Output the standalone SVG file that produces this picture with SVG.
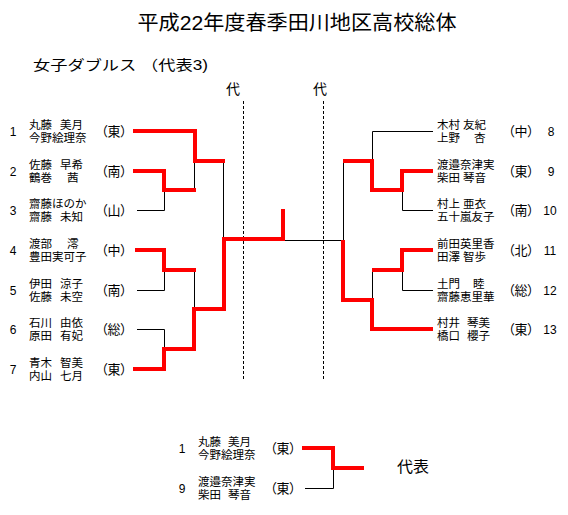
<svg xmlns="http://www.w3.org/2000/svg" width="568" height="515" viewBox="0 0 568 515">
<style>
text{font-family:"Liberation Sans","Noto Sans CJK JP",sans-serif;fill:#000}
.nm{font-size:11.5px}
.no{font-size:12px;text-anchor:middle}
.sc{font-size:13px;text-anchor:middle;font-feature-settings:"palt"}
.red{stroke:#f00;stroke-width:4;fill:none;stroke-linecap:square;stroke-linejoin:miter}
.thin{stroke:#000;stroke-width:1;fill:none}
.dash{stroke:#000;stroke-width:1;stroke-dasharray:3 2;fill:none}
</style>
<rect width="568" height="515" fill="#fff"/>
<g id="title">
<text x="297" y="30" font-size="20" text-anchor="middle" textLength="319" lengthAdjust="spacingAndGlyphs">平成22年度春季田川地区高校総体</text>
<text x="33" y="70" font-size="14" textLength="175" lengthAdjust="spacingAndGlyphs">女子ダブルス （代表3)</text>
<text x="233" y="94" font-size="14" text-anchor="middle">代</text>
<text x="320" y="94" font-size="14" text-anchor="middle">代</text>
</g>
<g id="connectors">
<line class="dash" x1="243.5" y1="101" x2="243.5" y2="379"/>
<line class="dash" x1="323.5" y1="101" x2="323.5" y2="379"/>
<path class="thin" d="M137,210.5H164.5V190"/>
<path class="thin" d="M194.5,161V190"/>
<path class="thin" d="M223.5,161V239"/>
<path class="thin" d="M137,290.5H164.5V270"/>
<path class="thin" d="M194.5,270V309"/>
<path class="thin" d="M137,329.5H164.5V349"/>
<path class="thin" d="M283,240.5H343"/>
<path class="thin" d="M433,131.5H372.5V161"/>
<path class="thin" d="M433,210.5H402.5V190"/>
<path class="thin" d="M343.5,161V240"/>
<path class="thin" d="M433,290.5H402.5V270"/>
<path class="thin" d="M372.5,270V300"/>
<path class="thin" d="M305,488.5H333.5V468"/>
<path class="red" d="M135,131H195V161H223"/>
<path class="red" d="M135,171H164V190H194"/>
<path class="red" d="M137,250H164V270H194"/>
<path class="red" d="M135,369H164V349H194V309H224V239H283V211"/>
<path class="red" d="M431,171H402V190H372V161H345"/>
<path class="red" d="M431,250H402V270H374"/>
<path class="red" d="M431,329H372V300H343V242"/>
<path class="red" d="M304,448H333V468H362"/>
</g>
<g id="team1"><text class="no" x="13" y="135.5">1</text><text class="nm" x="29" y="129">丸藤 <tspan x="60">美月</tspan></text><text class="nm" x="29" y="141.5">今野絵理奈</text><text class="sc" x="114" y="135.5">（東）</text></g>
<g id="team2"><text class="no" x="13" y="175.5">2</text><text class="nm" x="29" y="169">佐藤 <tspan x="60">早希</tspan></text><text class="nm" x="29" y="181.5">鶴巻 <tspan x="67">茜</tspan></text><text class="sc" x="114" y="175.5">（南）</text></g>
<g id="team3"><text class="no" x="13" y="214.5">3</text><text class="nm" x="29" y="208">齋藤ほのか</text><text class="nm" x="29" y="220.5">齋藤 <tspan x="60">未知</tspan></text><text class="sc" x="114" y="214.5">（山）</text></g>
<g id="team4"><text class="no" x="13" y="254.5">4</text><text class="nm" x="29" y="248">渡部 <tspan x="67">澪</tspan></text><text class="nm" x="29" y="260.5">豊田実可子</text><text class="sc" x="114" y="254.5">（中）</text></g>
<g id="team5"><text class="no" x="13" y="294.5">5</text><text class="nm" x="29" y="288">伊田 <tspan x="60">涼子</tspan></text><text class="nm" x="29" y="300.5">佐藤 <tspan x="60">未空</tspan></text><text class="sc" x="114" y="294.5">（南）</text></g>
<g id="team6"><text class="no" x="13" y="333.5">6</text><text class="nm" x="29" y="327">石川 <tspan x="60">由依</tspan></text><text class="nm" x="29" y="339.5">原田 <tspan x="60">有妃</tspan></text><text class="sc" x="114" y="333.5">（総）</text></g>
<g id="team7"><text class="no" x="13" y="373.5">7</text><text class="nm" x="29" y="367">青木 <tspan x="60">智美</tspan></text><text class="nm" x="29" y="379.5">内山 <tspan x="60">七月</tspan></text><text class="sc" x="114" y="373.5">（東）</text></g>
<g id="team8"><text class="nm" x="437" y="129">木村 <tspan x="463">友紀</tspan></text><text class="nm" x="437" y="141.5">上野 <tspan x="474">杏</tspan></text><text class="sc" x="521" y="135.5">（中）</text><text class="no" x="551" y="135.5">8</text></g>
<g id="team9"><text class="nm" x="437" y="169">渡邉奈津実</text><text class="nm" x="437" y="181.5">柴田 <tspan x="463">琴音</tspan></text><text class="sc" x="521" y="175.5">（東）</text><text class="no" x="551" y="175.5">9</text></g>
<g id="team10"><text class="nm" x="437" y="208">村上 <tspan x="463">亜衣</tspan></text><text class="nm" x="437" y="220.5">五十嵐友子</text><text class="sc" x="521" y="214.5">（南）</text><text class="no" x="550" y="214.5">10</text></g>
<g id="team11"><text class="nm" x="437" y="248">前田英里香</text><text class="nm" x="437" y="260.5">田澤 <tspan x="463">智歩</tspan></text><text class="sc" x="521" y="254.5">（北）</text><text class="no" x="550" y="254.5">11</text></g>
<g id="team12"><text class="nm" x="437" y="288">土門 <tspan x="473">睦</tspan></text><text class="nm" x="437" y="300.5">齋藤恵里華</text><text class="sc" x="521" y="294.5">（総）</text><text class="no" x="550" y="294.5">12</text></g>
<g id="team13"><text class="nm" x="437" y="327">村井 <tspan x="467">琴美</tspan></text><text class="nm" x="437" y="339.5">橋口 <tspan x="467">櫻子</tspan></text><text class="sc" x="521" y="333.5">（東）</text><text class="no" x="550" y="333.5">13</text></g>
<g id="final1"><text class="no" x="182" y="452.5">1</text><text class="nm" x="198" y="446">丸藤 <tspan x="228">美月</tspan></text><text class="nm" x="198" y="458.5">今野絵理奈</text><text class="sc" x="283" y="452.5">（東）</text></g>
<g id="final9"><text class="no" x="182" y="492.5">9</text><text class="nm" x="198" y="486">渡邉奈津実</text><text class="nm" x="198" y="498.5">柴田 <tspan x="228">琴音</tspan></text><text class="sc" x="283" y="492.5">（東）</text></g>
<g id="rep"><text x="397" y="472" font-size="15" textLength="32" lengthAdjust="spacingAndGlyphs">代表</text></g>
</svg>
